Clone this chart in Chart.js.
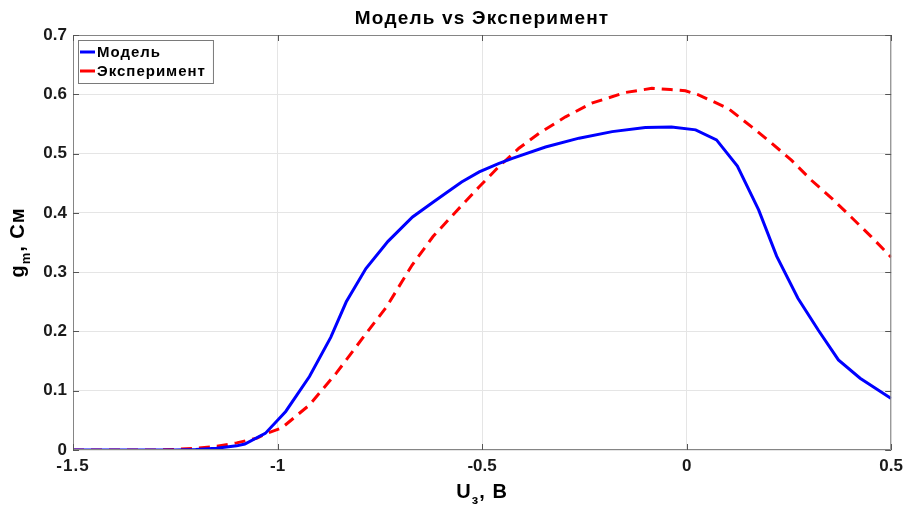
<!DOCTYPE html>
<html><head><meta charset="utf-8">
<script src="https://cdn.jsdelivr.net/npm/chart.js@4"></script>
<style>html,body{margin:0;padding:0;background:#fff}#wrap{width:909px;height:507px}</style>
</head><body><div id="wrap"><canvas id="c" width="909" height="507"></canvas></div>
<script>
const chartTitle = 'Модель vs Эксперимент';
const seriesNames = ['Модель', 'Эксперимент'];
const xModel = [-1.5,-1.45,-1.4,-1.35,-1.3,-1.25,-1.2,-1.15,-1.1,-1.08,-1.03,-0.98,-0.922,-0.87,-0.832,-0.784,-0.73,-0.67,-0.62,-0.589,-0.55,-0.507,-0.46,-0.426,-0.345,-0.263,-0.182,-0.101,-0.037,0.022,0.073,0.124,0.176,0.22,0.272,0.322,0.371,0.424,0.5];
const yModel = [0,0,0,0,0,0,0.001,0.003,0.007,0.010,0.028,0.065,0.124,0.19,0.25,0.306,0.352,0.393,0.418,0.433,0.452,0.469,0.483,0.492,0.511,0.526,0.537,0.544,0.545,0.540,0.523,0.479,0.405,0.327,0.256,0.202,0.152,0.121,0.087];
const xExp = [-1.5,-1.4,-1.3,-1.25,-1.2,-1.15,-1.1,-1.05,-1.03,-0.99,-0.922,-0.856,-0.783,-0.734,-0.671,-0.62,-0.564,-0.507,-0.459,-0.41,-0.361,-0.296,-0.232,-0.15,-0.085,-0.04,-0.003,0.029,0.102,0.159,0.207,0.256,0.305,0.354,0.402,0.451,0.5];
const yExp = [0,0,0,0.001,0.003,0.006,0.012,0.02,0.027,0.037,0.076,0.13,0.197,0.241,0.312,0.36,0.402,0.444,0.478,0.509,0.534,0.562,0.585,0.603,0.61,0.608,0.606,0.599,0.576,0.545,0.518,0.489,0.455,0.425,0.393,0.36,0.325];
const xTicks = [-1.5,-1,-0.5,0,0.5];
const yTicks = [0,0.1,0.2,0.3,0.4,0.5,0.6,0.7];

const FONT = '"Liberation Sans", Arial, Helvetica, sans-serif';
const AX = '#858585';

const deco = {
  id: 'deco',
  beforeDraw(chart) { chart.ctx.canvas.style.letterSpacing = '1px'; },
  afterDraw(chart) {
    const {ctx, chartArea: a, scales: {x, y}} = chart;
    ctx.save();
    ctx.strokeStyle = AX; ctx.lineWidth = 1;
    ctx.beginPath();
    ctx.rect(a.left + 0.5, a.top + 0.5, a.right - a.left - 1, a.bottom - a.top - 1);
    ctx.stroke();
    ctx.strokeStyle = '#555';
    ctx.beginPath();
    xTicks.forEach(v => { const px = Math.round(x.getPixelForValue(v)) + 0.5;
      ctx.moveTo(px, a.bottom); ctx.lineTo(px, a.bottom - 6);
      ctx.moveTo(px, a.top); ctx.lineTo(px, a.top + 6); });
    yTicks.forEach(v => { const py = Math.round(y.getPixelForValue(v)) + 0.5;
      ctx.moveTo(a.left, py); ctx.lineTo(a.left + 6, py);
      ctx.moveTo(a.right, py); ctx.lineTo(a.right - 6, py); });
    ctx.stroke();
    // title
    ctx.fillStyle = '#000';
    ctx.letterSpacing = '1.2px';
    ctx.font = 'bold 19px ' + FONT;
    ctx.textAlign = 'center'; ctx.textBaseline = 'middle';
    ctx.fillText(chartTitle, (a.left + a.right) / 2, 19);
    ctx.letterSpacing = '1px';
    // x title with subscript
    const cx = (a.left + a.right) / 2;
    const f1 = 'bold 20px ' + FONT, f2 = 'bold 13px ' + FONT;
    ctx.textAlign = 'left'; ctx.textBaseline = 'alphabetic';
    ctx.font = f1; const wU = ctx.measureText('U').width, wR = ctx.measureText(', В').width;
    ctx.font = f2; const wS = ctx.measureText('з').width;
    let sx = cx - (wU + wS + wR) / 2; const by = 498;
    ctx.font = f1; ctx.fillText('U', sx, by); sx += wU;
    ctx.font = f2; ctx.fillText('з', sx, by + 6); sx += wS;
    ctx.font = f1; ctx.fillText(', В', sx, by);
    // y title with subscript (rotated)
    ctx.save();
    ctx.translate(24, (a.top + a.bottom) / 2);
    ctx.rotate(-Math.PI / 2);
    ctx.font = f1; const wg = ctx.measureText('g').width, wr2 = ctx.measureText(', См').width;
    ctx.font = f2; const wm = ctx.measureText('m').width;
    let ty = -(wg + wm + wr2) / 2;
    ctx.font = f1; ctx.fillText('g', ty, 0); ty += wg;
    ctx.font = f2; ctx.fillText('m', ty, 6); ty += wm;
    ctx.font = f1; ctx.fillText(', См', ty, 0);
    ctx.restore();
    // legend
    ctx.letterSpacing = '1px';
    const lx = a.left + 5, ly = a.top + 5;
    ctx.font = 'bold 15px ' + FONT;
    const tw = Math.max(...seriesNames.map(n => ctx.measureText(n).width));
    const bw = 26 + tw, bh = 43;
    ctx.fillStyle = '#fff'; ctx.fillRect(lx, ly, bw, bh);
    ctx.strokeStyle = '#7a7a7a'; ctx.lineWidth = 1;
    ctx.strokeRect(lx + 0.5, ly + 0.5, bw, bh);
    chart.data.datasets.forEach((ds, i) => {
      const yy = ly + 12 + i * 19;
      ctx.strokeStyle = ds.borderColor; ctx.lineWidth = 3; ctx.setLineDash([]);
      ctx.beginPath(); ctx.moveTo(lx + 2, yy); ctx.lineTo(lx + 17, yy); ctx.stroke();
      ctx.fillStyle = '#000'; ctx.textBaseline = 'middle'; ctx.textAlign = 'left';
      ctx.fillText(ds.label, lx + 19, yy + 1);
    });
    ctx.restore();
  }
};

new Chart(document.getElementById('c'), {
  type: 'line',
  data: {
    datasets: [
      { label: seriesNames[0], data: xModel.map((v, i) => ({x: v, y: yModel[i]})),
        borderColor: '#0000ff', borderWidth: 3, pointRadius: 0, tension: 0, fill: false },
      { label: seriesNames[1], data: xExp.map((v, i) => ({x: v, y: yExp[i]})),
        borderColor: '#ff0000', borderWidth: 3, borderDash: [11, 7], pointRadius: 0, tension: 0, fill: false }
    ]
  },
  options: {
    responsive: false, animation: false,
    layout: { padding: { top: 35, right: 16, left: 0, bottom: 0 } },
    plugins: { legend: { display: false }, title: { display: false }, tooltip: { enabled: false } },
    scales: {
      x: {
        type: 'linear', min: -1.5, max: 0.5,
        afterBuildTicks: s => { s.ticks = xTicks.map(v => ({value: v})); },
        afterFit: s => { s.height = 57; },
        grid: { color: '#e5e5e5', drawTicks: false },
        border: { display: false },
        ticks: { color: '#1a1a1a', padding: 6, font: { family: FONT, size: 17, weight: 'bold' }, maxRotation: 0,
          callback: v => String(Math.round(v * 10) / 10) }
      },
      y: {
        type: 'linear', min: 0, max: 0.7,
        afterBuildTicks: s => { s.ticks = yTicks.map(v => ({value: v})); },
        afterFit: s => { s.width = 73; },
        grid: { color: '#e5e5e5', drawTicks: false },
        border: { display: false },
        ticks: { color: '#1a1a1a', padding: 6, font: { family: FONT, size: 17, weight: 'bold' },
          callback: v => String(Math.round(v * 10) / 10) }
      }
    }
  },
  plugins: [deco]
});
</script></body></html>
